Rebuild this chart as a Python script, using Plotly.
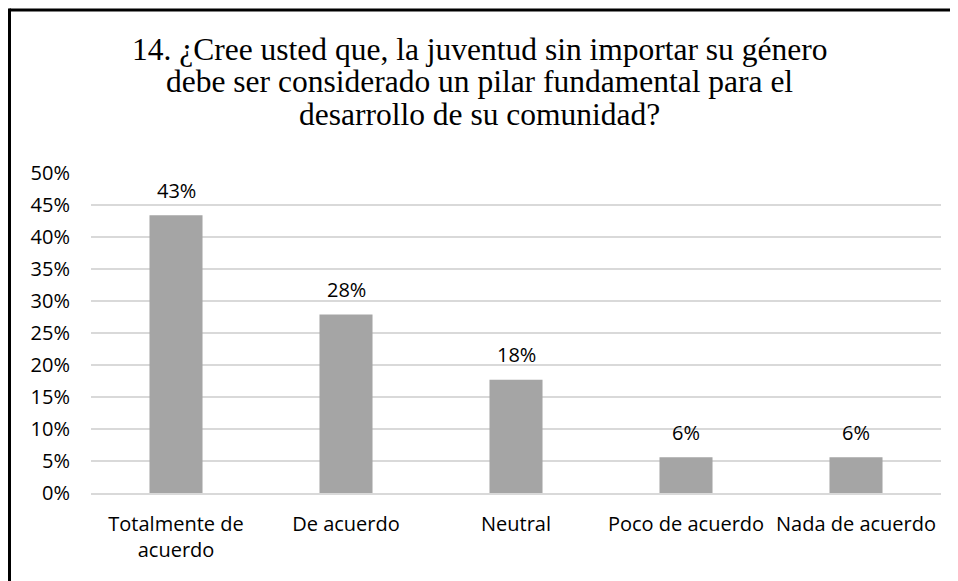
import plotly.graph_objects as go

categories = ["Totalmente de<br>acuerdo", "De acuerdo", "Neutral", "Poco de acuerdo", "Nada de acuerdo"]
values = [0.434, 0.279, 0.177, 0.056, 0.056]
title_lines = [
    "14. ¿Cree usted que, la juventud sin importar su género",
    "debe ser considerado un pilar fundamental para el",
    "desarrollo de su comunidad?",
]
y_ticks = [i * 0.05 for i in range(11)]

# the page body has an 8px margin; work in window pixels and convert
OFF = 8
W, H = 958 - OFF, 581 - OFF
plot_left, plot_right, plot_top, plot_bottom = 91, 941, 172.7, 493.3
L = plot_left - OFF
R = W - (plot_right - OFF)
T = plot_top - OFF
B = H - (plot_bottom - OFF)
plot_h = plot_bottom - plot_top
plot_w = plot_right - plot_left

def px_x(x):
    return (x - plot_left) / plot_w

def px_y(y):
    return (plot_bottom - y) / plot_h

LABEL_FONT = dict(family="Open Sans", size=20, color="#000000")

fig = go.Figure()
fig.add_trace(go.Bar(
    x=categories, y=values,
    marker=dict(color="#a5a5a5", line=dict(width=0)),
    hoverinfo="skip",
))

annotations = []
for c, v in zip(categories, values):
    annotations.append(dict(
        x=c, y=v, xref="x", yref="y", text=f"{round(v * 100)}%",
        showarrow=False, yanchor="middle", yshift=25, font=LABEL_FONT,
    ))

title_centers = [48.8, 81.2, 113.6]
for line, yc in zip(title_lines, title_centers):
    annotations.append(dict(
        x=px_x(479.5), y=px_y(yc), xref="paper", yref="paper", text=line,
        showarrow=False, xanchor="center", yanchor="middle",
        font=dict(family="Liberation Serif", size=31.5, color="#000000"),
    ))

shapes = [
    dict(type="line", xref="paper", yref="paper", x0=px_x(9.5), x1=px_x(980), y0=px_y(9.5), y1=px_y(9.5),
         line=dict(color="#000000", width=3)),
    dict(type="line", xref="paper", yref="paper", x0=px_x(9.5), x1=px_x(9.5), y0=px_y(8), y1=px_y(600),
         line=dict(color="#000000", width=3)),
]

fig.update_layout(
    width=W, height=H,
    margin=dict(l=L, r=R, t=T, b=B, pad=0),
    paper_bgcolor="#ffffff", plot_bgcolor="#ffffff",
    bargap=0.688,
    showlegend=False,
    annotations=annotations,
    shapes=shapes,
    font=LABEL_FONT,
)
fig.update_xaxes(
    showgrid=False, showline=True, linecolor="#d9d9d9", linewidth=2,
    ticks="", tickfont=LABEL_FONT, ticklabelstandoff=12, fixedrange=True,
)
fig.update_yaxes(
    range=[0, 0.5], tickvals=y_ticks, tickformat=".0%",
    showgrid=True, gridcolor="#d9d9d9", gridwidth=2,
    zeroline=False, showline=False, ticks="",
    tickfont=LABEL_FONT, ticklabelstandoff=20, fixedrange=True,
)

fig.write_html("out.html")
